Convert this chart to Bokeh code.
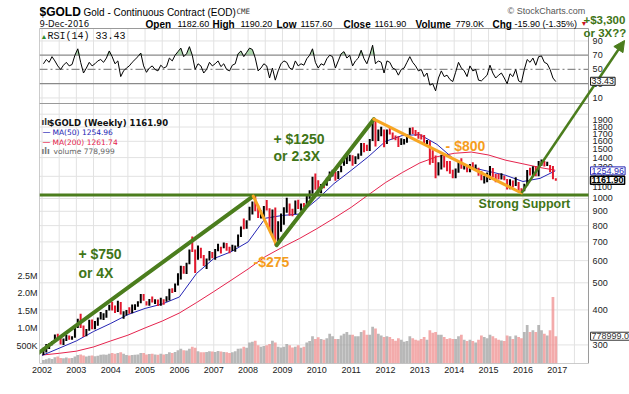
import numpy as np
from bokeh.plotting import figure
from bokeh.models import (Range1d, LinearAxis, FixedTicker, Label, Arrow, NormalHead,
                          LinearScale)
from bokeh.core.properties import value
from bokeh.embed import file_html
from bokeh.resources import INLINE

# ---------------- data (monthly) ----------------
FIRST_YEAR = 2002
close = [
 282,296,302,308,326,318,304,312,323,317,319,347,
 368,347,335,339,364,346,354,375,384,386,398,416,
 400,396,427,388,393,395,391,408,416,429,452,438,
 422,436,428,435,416,436,429,433,473,470,495,518,
 570,556,584,653,645,616,633,624,598,604,648,635,
 652,685,662,683,657,650,667,673,743,789,783,836,
 924,975,917,865,888,928,918,833,871,718,816,884,
 928,942,916,884,980,927,954,953,1000,1040,1180,1096,
 1081,1118,1115,1180,1212,1245,1181,1247,1309,1359,1384,1421,
 1333,1411,1439,1556,1536,1500,1628,1826,1620,1725,1746,1566,
 1738,1710,1669,1664,1561,1604,1614,1687,1776,1720,1713,1675,
 1663,1578,1598,1472,1393,1234,1313,1396,1327,1323,1250,1202,
 1240,1326,1284,1296,1250,1322,1282,1286,1211,1172,1175,1184,
 1279,1213,1183,1182,1190,1172,1095,1132,1115,1142,1065,1061,
 1118,1238,1233,1294,1215,1322,1350,1309,1316,1277,1173,1162]
high = [
 293,302,304,310,327,329,323,316,326,324,322,349,
 372,388,352,342,369,370,365,376,393,389,400,417,
 428,415,431,427,396,400,409,418,419,430,456,456,
 430,438,447,437,436,442,437,448,476,478,497,541,
 575,574,589,658,732,658,679,667,629,610,649,644,
 660,690,673,696,693,673,683,679,744,795,848,837,
 934,976,1033,948,906,941,988,923,913,928,830,884,
 931,1007,960,919,983,990,960,963,1025,1071,1195,1227,
 1163,1127,1140,1187,1249,1266,1245,1254,1310,1388,1425,1432,
 1426,1414,1447,1577,1577,1556,1632,1920,1911,1764,1804,1764,
 1763,1792,1720,1680,1668,1641,1630,1693,1790,1798,1755,1727,
 1697,1684,1617,1607,1487,1424,1348,1434,1433,1362,1361,1267,
 1280,1346,1392,1331,1315,1327,1346,1323,1288,1255,1204,1239,
 1307,1284,1223,1225,1232,1205,1175,1171,1160,1191,1146,1089,
 1128,1263,1287,1303,1307,1362,1377,1360,1353,1316,1306,1182]
low = [
 276,282,290,299,307,313,301,300,310,313,313,318,
 345,345,320,322,337,341,341,351,370,368,375,398,
 398,390,393,385,372,382,388,389,400,411,423,431,
 415,414,425,420,413,414,417,428,432,460,464,489,
 514,539,537,582,644,542,604,612,574,560,600,612,
 604,648,636,664,651,638,650,645,672,729,776,780,
 835,877,900,851,848,858,906,772,735,681,705,760,
 806,890,868,865,880,918,904,931,950,997,1040,1075,
 1072,1044,1088,1111,1156,1199,1157,1175,1241,1310,1329,1359,
 1309,1328,1380,1420,1462,1478,1478,1603,1535,1604,1667,1523,
 1565,1694,1628,1613,1527,1553,1560,1583,1690,1700,1673,1636,
 1626,1555,1563,1321,1338,1180,1208,1270,1291,1251,1226,1182,
 1182,1237,1277,1268,1240,1240,1280,1273,1205,1161,1131,1142,
 1167,1191,1142,1170,1170,1162,1077,1080,1098,1108,1052,1046,
 1061,1111,1208,1206,1200,1201,1309,1302,1306,1241,1171,1158]
first_open = 279
volume_k = [
 100,120,150,130,180,200,160,150,170,150,160,200,
 240,260,230,200,220,230,210,220,250,260,250,280,
 300,280,300,320,280,240,230,240,250,260,300,300,
 260,270,280,260,250,280,260,270,320,300,330,380,
 420,380,370,420,480,450,350,320,320,330,350,340,
 330,360,340,330,320,300,320,350,420,430,480,450,
 600,620,650,520,480,500,520,560,650,600,480,460,
 480,560,520,460,480,520,450,480,600,640,780,700,
 750,700,680,720,850,780,700,700,800,850,900,820,
 820,780,780,900,950,820,820,1050,1000,850,800,760,
 780,760,700,650,720,680,620,640,780,720,680,660,
 700,760,680,950,880,900,820,820,760,700,720,700,
 700,780,820,680,640,680,640,600,680,800,760,720,
 820,780,720,680,660,640,800,780,700,800,760,720,
 900,1100,900,950,900,1100,950,850,800,950,1900,780]
rsi = [
 58,64,60,68,62,55,50,56,60,55,57,70,
 79,60,45,52,60,55,58,62,64,60,66,76,
 68,58,62,40,48,52,55,60,64,68,73,55,
 46,52,55,50,48,56,52,54,66,62,70,75,
 80,68,72,82,70,50,58,55,45,50,60,55,
 58,62,54,58,50,48,56,58,72,76,68,74,
 80,78,66,48,52,58,55,38,52,35,48,58,
 62,60,52,50,62,55,58,56,65,70,79,60,
 52,58,56,65,70,68,52,62,72,75,66,70,
 55,62,66,77,65,58,70,84,58,62,60,45,
 62,60,52,50,42,50,52,60,68,60,55,48,
 50,40,45,28,30,20,38,48,40,42,36,33,
 46,60,52,48,40,55,48,50,35,34,38,42,
 56,45,38,42,45,38,30,44,40,50,34,32,
 50,64,60,66,56,68,69,60,58,50,38,33]
ma_t = [2002.0,2002.5,2003.0,2003.5,2004.0,2004.5,2005.0,2005.5,2006.0,2006.5,
        2007.0,2007.5,2008.0,2008.5,2009.0,2009.5,2010.0,2010.5,2011.0,2011.5,
        2012.0,2012.5,2013.0,2013.5,2014.0,2014.5,2015.0,2015.5,2016.0,2016.5,2016.94]
ma50 = [275,292,310,335,358,385,405,420,445,540,610,645,700,850,870,880,990,1130,
        1260,1410,1600,1680,1690,1560,1380,1290,1250,1210,1150,1180,1255]
ma200 = [276,280,285,295,310,325,345,365,390,425,465,510,560,620,670,720,780,850,
         930,1030,1140,1240,1340,1410,1450,1465,1430,1370,1330,1290,1262]
trend_x = [2001.6, 2008.15, 2008.83, 2011.66, 2015.96, 2018.96]
trend_y = [264, 1020, 681, 1920, 1046, 3667]
support_level = 1030
price_ticks = [300,400,500,600,700,800,900,1000,1100,1200,1300,1400,1500,1600,1700,1800,1900]
price_grid = [300,400,500,600,700,800,900,1000,1200,1400,1600,1800,2000]
vol_ticks = [500000, 1000000, 1500000, 2000000, 2500000]
vol_tick_labels = ["500K", "1.0M", "1.5M", "2.0M", "2.5M"]
year_ticks = list(range(2002, 2018))
rsi_ticks = [10, 30, 50, 70, 90]
rsi_grid = [10, 90]

# ---------------- styling / layout ----------------
GREEN = "#4b7d1d"
GREEN_TXT = "#3f7517"
ORANGE = "#f7a623"
ORANGE_TXT = "#f59d1c"
BLUE = "#2424b4"
CRIMSON = "#e5234d"
GRID = "#e2e2e2"
OUTLINE = "#9a9a9a"
FONT = "Liberation Sans"

XL, XR = 2001.927, 2019.1037      # frame spans ref pixels 39..629
XP = 2017.91                      # right edge of the panels (ref pixel 588)
X_LBL = 2018.03                   # right-hand scale labels
X_BOX = 2017.97                   # last-value boxes
RSI_TOP, RSI_BOT, PRICE_BOT = 28, 103, 363   # panel edges in pixels

n = len(close)
t = [FIRST_YEAR + (i + 0.5) / 12 for i in range(n)]
prev = [first_open] + close[:-1]
up = [c >= p for c, p in zip(close, prev)]
bar_color = ["#000000" if u else "#e3182d" for u in up]
vol_color = ["#a0a0a0" if u else "#ef8f8f" for u in up]
vol = [v * 1000 for v in volume_k]
half_years = [FIRST_YEAR + 0.5 * k for k in range(32)]

p = figure(width=629, height=382, x_range=Range1d(XL, XR), y_range=Range1d(257.5, 5094.0),
           y_axis_type="log", x_axis_location="below", y_axis_location=None, title=None,
           output_backend="svg", toolbar_location=None,
           min_border_left=39, min_border_right=0, min_border_top=0, min_border_bottom=19)
p.extra_y_ranges = {"rsi": Range1d(-362.7, 146.8), "vol": Range1d(0, 10.371e6),
                    "px_y": Range1d(PRICE_BOT, 0)}
p.extra_y_scales = {"rsi": LinearScale(), "vol": LinearScale(), "px_y": LinearScale()}
p.extra_x_ranges = {"px_x": Range1d(39, 629)}
p.extra_x_scales = {"px_x": LinearScale()}
p.outline_line_color = None
p.grid.visible = False

xa = p.xaxis[0]
xa.ticker = FixedTicker(ticks=year_ticks)
vax = LinearAxis(y_range_name="vol", ticker=FixedTicker(ticks=vol_ticks),
                 major_label_overrides=dict(zip(vol_ticks, vol_tick_labels)))
p.add_layout(vax, "left")
for ax in (xa, vax):
    ax.axis_line_color = None
    ax.major_tick_line_color = None
    ax.minor_tick_line_color = None
    ax.major_tick_out = 0
    ax.major_tick_in = 0
    ax.minor_tick_out = 0
    ax.minor_tick_in = 0
    ax.major_label_standoff = 3
    ax.major_label_text_font = FONT
    ax.major_label_text_font_size = "9px"
    ax.major_label_text_color = "#222222"
vax.major_label_standoff = 2

# ---- grid ----
p.segment(x0=half_years, x1=half_years, y0=RSI_TOP, y1=PRICE_BOT, y_range_name="px_y",
          line_color=GRID, line_width=1)
p.segment(x0=XL, x1=XP, y0=price_grid, y1=price_grid, line_color=GRID, line_width=1)
p.segment(x0=XL, x1=XP, y0=rsi_grid, y1=rsi_grid, y_range_name="rsi",
          line_color=GRID, line_width=1)

# ---- RSI panel ----
p.varea(x=t, y1=70, y2=np.maximum(np.array(rsi), 70), y_range_name="rsi",
        fill_color="#8cc98c", fill_alpha=0.7)
p.segment(x0=XL, x1=XP, y0=[70, 30], y1=[70, 30], y_range_name="rsi",
          line_color="#8a8a8a", line_width=1.2)
p.segment(x0=XL, x1=XP, y0=50, y1=50, y_range_name="rsi",
          line_color="#8a8a8a", line_width=1.2, line_dash="8 3 2 3")
p.line(t, rsi, y_range_name="rsi", line_color="black", line_width=1)

# ---- price panel ----
p.vbar(x=t, top=vol, width=0.08, y_range_name="vol", fill_color=vol_color,
       line_color=None, fill_alpha=0.75)
p.line(ma_t, ma200, line_color=CRIMSON, line_width=1)
p.line(ma_t, ma50, line_color=BLUE, line_width=1)
p.segment(x0=t, y0=low, x1=t, y1=high, line_color=bar_color, line_width=2)

# panel frames
p.quad(left=XL, right=XP, top=[RSI_TOP, RSI_BOT], bottom=[RSI_BOT, PRICE_BOT],
       y_range_name="px_y", fill_color=None, line_color=OUTLINE, line_width=1)

# ---- right-hand scales ----
p.text(x=X_LBL, y=price_ticks, text=[str(v) for v in price_ticks],
       text_font=value(FONT), text_font_size=value("9px"), text_color="#222222",
       text_baseline="middle")
p.text(x=X_LBL, y=rsi_ticks, text=[str(v) for v in rsi_ticks], y_range_name="rsi",
       text_font=value(FONT), text_font_size=value("9px"), text_color="#222222",
       text_baseline="middle")

# ---- hand-drawn trend lines ----
p.segment(x0=XL, x1=XP, y0=support_level, y1=support_level, line_color=GREEN, line_width=3)
seg_col = [GREEN, ORANGE, GREEN, ORANGE]
seg_w = [4, 3, 4, 3]
p.segment(x0=trend_x[:4], y0=trend_y[:4], x1=trend_x[1:5], y1=trend_y[1:5],
          line_color=seg_col, line_width=seg_w, line_cap="round")
p.add_layout(Arrow(x_start=trend_x[4], y_start=trend_y[4], x_end=trend_x[5], y_end=trend_y[5],
                   line_color=GREEN, line_width=2.5,
                   end=NormalHead(size=11, fill_color=GREEN, line_color=GREEN)))


def note(x, y, text, color, size=14):
    p.add_layout(Label(x=x, y=y, text=text, text_font=FONT, text_font_style="bold",
                       text_font_size=f"{size}px", text_color=color, text_baseline="middle"))


note(2003.06, 636, "+ $750", GREEN_TXT)
note(2003.06, 540, "or 4X", GREEN_TXT)
note(2008.74, 1637, "+ $1250", GREEN_TXT)
note(2008.74, 1413, "or 2.3X", GREEN_TXT)
note(2008.16, 591, "-$275", ORANGE_TXT)
note(2013.75, 1546, "- $800", ORANGE_TXT)
note(2014.71, 952, "Strong Support", GREEN_TXT, 12.5)


# ---- texts placed in pixel space (header, legends) ----
def txt(xp, base, text, size, bold=False, color="#000000", font=FONT):
    p.add_layout(Label(x=xp, y=base, x_range_name="px_x", y_range_name="px_y", text=text,
                       text_font=font, text_font_size=f"{size}px",
                       text_font_style="bold" if bold else "normal",
                       text_color=color, text_baseline="alphabetic"))


txt(39, 11.5, "$GOLD", 12, True)
txt(83, 11.5, "Gold - Continuous Contract (EOD)", 10)
txt(236, 11, "CME", 7.5, False, "#333333", "DejaVu Sans Mono")
txt(507, 10.5, "\u00a9 StockCharts.com", 9, False, "#555555")
txt(39, 23.5, "9-Dec-2016", 8.5, False, "#111111", "DejaVu Sans")
for xp, s, b in ((145, "Open", True), (177, "1182.60", False), (212, "High", True),
                 (240, "1190.20", False), (276, "Low", True), (300, "1157.60", False),
                 (343, "Close", True), (374, "1161.90", False), (415, "Volume", True),
                 (455, "779.0K", False), (492, "Chg", True), (514, "-15.90 (-1.35%)", False)):
    txt(xp, 23.5, s, 10 if b else 9, b)
txt(580, 23, "\u25bc", 7, False, "#cc1122")
txt(583, 19, "+$3,300", 11.5, True, GREEN_TXT)
txt(583, 32, "or 3X??", 11.5, True, GREEN_TXT)
txt(40, 35.5, "\u25b2", 7, False, "#2c8a2c")
txt(47, 35.5, "RSI(14) 33.43", 10, False, "#111111", "Liberation Mono")

txt(41, 122, "\u0131l\u0131", 8, True, "#333333", "DejaVu Sans")
txt(48, 122, "$GOLD (Weekly) 1161.90", 8.5, True, "#111111", "DejaVu Sans")
txt(42, 132, "\u2014", 8, False, BLUE, "DejaVu Sans")
txt(52, 132, "MA(50) 1254.96", 7.5, False, BLUE, "DejaVu Sans")
txt(42, 142, "\u2014", 8, False, CRIMSON, "DejaVu Sans")
txt(52, 142, "MA(200) 1261.74", 7.5, False, CRIMSON, "DejaVu Sans")
txt(41, 151, "\u0131l\u0131", 8, True, "#777777", "DejaVu Sans")
txt(53, 151, "volume 778,999", 7.5, False, "#666666", "DejaVu Sans")

# ---- last-value boxes on the right scales ----
for val, s, col, bold, rng in ((1254.96, "1254.96", BLUE, False, "default"),
                               (1161.90, "1161.90", "#000000", True, "default"),
                               (33.43, "33.43", "#111111", False, "rsi"),
                               (778999, "778999.0", "#333333", False, "vol")):
    p.add_layout(Label(x=X_BOX, y=val, y_range_name=rng, text=s,
                       text_font=FONT, text_font_size="9px",
                       text_font_style="bold" if bold else "normal",
                       text_baseline="middle", text_color=col, border_line_color=col,
                       border_line_width=1.5 if bold else 1,
                       background_fill_color="white", padding=1))

open("out.html", "w").write(file_html(p, INLINE))
